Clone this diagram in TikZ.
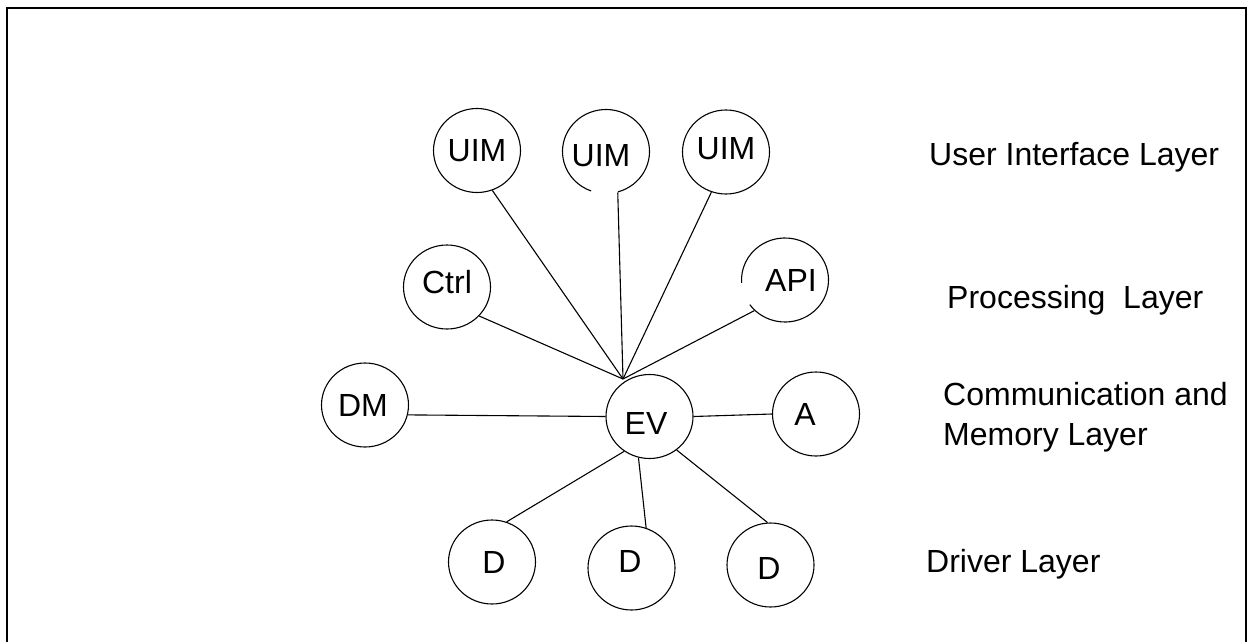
\documentclass[tikz,border=0pt]{standalone}
\usepackage{fontspec}
\setmainfont{Liberation Sans}
\usetikzlibrary{shapes.geometric}
\tikzset{
  circ/.style={ellipse, draw, line width=1.1pt, minimum width=87pt, minimum height=84pt, inner sep=0pt},
  opencirc/.style={circ, draw=none},
  lbl/.style={font=\fontsize{32pt}{40pt}\selectfont, inner sep=0pt},
  layer/.style={font=\fontsize{32pt}{40pt}\selectfont, inner sep=0pt, anchor=base west, align=left},
  conn/.style={line width=1.1pt},
  frame/.style={line width=2.2pt}
}
\begin{document}
\begin{tikzpicture}[x=1pt,y=1pt]
\useasboundingbox (0,0) rectangle (1252,-642);
\clip (0,0) rectangle (1252,-642);
\draw[frame] (7,-8) rectangle (1246,-660);

% upper layer
\node[circ, label={[lbl]center:UIM}] (uim1) at (477,-150.5) {};
\node[opencirc, label={[lbl,xshift=-5pt,yshift=-4pt]center:UIM}] (uim2) at (606,-151.5) {};
\node[circ, label={[lbl,yshift=3pt]center:UIM}] (uim3) at (726,-152) {};
% processing
\node[circ, label={[lbl,yshift=5pt]center:Ctrl}] (ctrl) at (447,-287) {};
\node[opencirc, label={[lbl,xshift=6pt]center:API}] (api) at (785,-280) {};
% communication
\node[circ, label={[lbl,xshift=-2pt]center:DM}] (dm) at (365,-405) {};
\node[circ, label={[lbl,xshift=-3.5pt,yshift=-6.5pt]center:EV}] (ev) at (649.5,-416.5) {};
\node[circ, label={[lbl,xshift=-11pt]center:A}] (a) at (816,-414) {};
% drivers
\node[circ, label={[lbl,xshift=2pt]center:D}] (d1) at (492,-562) {};
\node[circ, label={[lbl,xshift=-1.5pt,yshift=7pt]center:D}] (d2) at (631.5,-568) {};
\node[circ, label={[lbl,xshift=-1.5pt,yshift=-3pt]center:D}] (d3) at (770.5,-565) {};

% open circles (gaps in outline)
\draw[conn] ([shift={(286:43.5 and 42)}]uim2.center) arc[start angle=286, end angle=610, x radius=43.5, y radius=42];
\draw[conn] ([shift={(216:43.5 and 42)}]api.center) arc[start angle=216, end angle=544, x radius=43.5, y radius=42];

% hub where upper connectors meet
\coordinate (hub) at (623,-379);

\draw[conn] (uim1.-69) -- (hub);
\draw[conn] (uim2.-74) -- (hub);
\draw[conn] (uim3.-110) -- (hub);
\draw[conn] (ctrl.-42) -- (hub);
\draw[conn] (api.-135) -- (hub);

\draw[conn] (dm.-13) -- (ev.180);
\draw[conn] (ev.0) -- (a.180);

\draw[conn] (ev.-126) -- (d1.70);
\draw[conn] (ev.-105) -- (d2.70);
\draw[conn] (ev.-51) -- (d3.94);

% layer labels
\node[layer] (l1) at (929,-165) {User Interface Layer};
\node[layer] (l2) at (947,-308) {Processing\ \ Layer};
\node[layer] (l3) at (943,-445) {Communication and\\Memory Layer};
\node[layer] (l4) at (926,-572) {Driver Layer};
\end{tikzpicture}
\end{document}
